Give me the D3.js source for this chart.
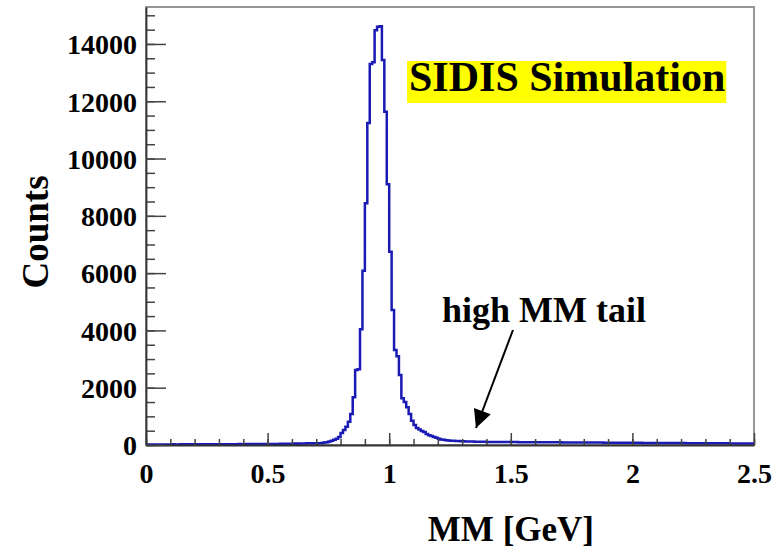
<!DOCTYPE html>
<html>
<head>
<meta charset="utf-8">
<script src="https://cdn.jsdelivr.net/npm/d3@7"></script>
<style>
  body { margin: 0; background: #fff; }
  text { font-family: "Liberation Serif", "Times New Roman", serif; font-weight: bold; fill: #000; }
</style>
</head>
<body>
<svg id="chart"></svg>
<script>
(function (d3) {
    'use strict';

    // histogram: 250 bins of 0.01 GeV from 0 to 2.5
    var binWidth = 0.01;
    var counts = [
        18, 16, 19, 17, 20, 18, 19, 21, 18, 20,
        20, 22, 19, 21, 23, 20, 22, 21, 24, 22,
        23, 25, 22, 24, 26, 23, 25, 27, 24, 26,
        27, 25, 28, 26, 29, 28, 30, 27, 31, 29,
        30, 32, 29, 33, 31, 34, 32, 35, 33, 36,
        35, 37, 36, 39, 38, 41, 40, 43, 42, 46,
        45, 49, 48, 52, 54, 56, 58, 60, 62, 60,
        60, 65, 72, 85, 100, 125, 150, 185, 220, 280,
        420, 520, 640, 813, 1080, 1665, 2620, 2640, 4040, 6080,
        8435, 11240, 13300, 13360, 14480, 14600, 14620, 13440, 11630, 9100,
        6750, 4710, 3315, 3100, 2440, 1630, 1500, 1316, 1080, 850,
        700, 590, 540, 490, 450, 380, 340, 310, 280, 250,
        220, 195, 180, 170, 160, 152, 146, 140, 136, 132,
        128, 125, 122, 120, 118, 116, 114, 112, 111, 110,
        109, 108, 107, 106, 105, 105, 104, 103, 103, 102,
        102, 101, 101, 100, 100, 99, 99, 98, 98, 97,
        97, 96, 96, 95, 95, 94, 94, 93, 93, 92,
        92, 91, 91, 90, 90, 89, 89, 88, 87, 87,
        86, 86, 85, 85, 84, 84, 83, 83, 82, 82,
        81, 81, 80, 80, 79, 79, 78, 78, 77, 77,
        76, 76, 75, 75, 74, 74, 73, 73, 72, 72,
        71, 71, 70, 70, 69, 69, 68, 68, 67, 67,
        66, 66, 65, 65, 64, 64, 63, 63, 62, 62,
        61, 61, 60, 60, 59, 59, 58, 58, 57, 57,
        56, 56, 55, 55, 54, 54, 53, 53, 52, 52
    ];

    var xTicks = [0, 0.5, 1, 1.5, 2, 2.5],
        xTickLabels = ['0', '0.5', '1', '1.5', '2', '2.5'],
        yTicks = [0, 2000, 4000, 6000, 8000, 10000, 12000, 14000],
        yTickLabels = ['0', '2000', '4000', '6000', '8000', '10000', '12000', '14000'],
        xMinorTicks = d3.range(0, 26).map(function (i) { return i / 10; }),
        yMinorTicks = d3.range(0, 31).map(function (i) { return i * 500; });

    var width = 772,
        height = 552,
        margin = { top: 7, right: 18, bottom: 107, left: 146 };

    var x = d3.scaleLinear().domain([0, 2.5]).range([margin.left, width - margin.right]),
        y = d3.scaleLinear().domain([0, 15290]).range([height - margin.bottom, margin.top]);

    var svg = d3.select('#chart')
        .attr('width', width)
        .attr('height', height);

    // frame
    svg.append('rect')
        .attr('x', x(0))
        .attr('y', y(15290))
        .attr('width', x(2.5) - x(0))
        .attr('height', y(0) - y(15290))
        .attr('fill', 'none')
        .attr('stroke', '#8c8c8c')
        .attr('stroke-width', 1.8);

    // histogram outline
    var pts = [];
    counts.forEach(function (c, i) {
        pts.push([i * binWidth, c]);
        pts.push([(i + 1) * binWidth, c]);
    });
    svg.append('path')
        .datum(pts)
        .attr('fill', 'none')
        .attr('stroke', '#1a1ab4')
        .attr('stroke-width', 2.5)
        .attr('d', d3.line()
            .x(function (d) { return x(d[0]); })
            .y(function (d) { return y(d[1]); }));

    // minor ticks
    svg.append('g')
        .attr('transform', 'translate(0,' + y(0) + ')')
        .call(d3.axisBottom(x).tickValues(xMinorTicks).tickSize(-6).tickSizeOuter(0).tickFormat(''))
        .call(function (g) { g.select('.domain').remove(); g.selectAll('line').attr('stroke', '#444').attr('stroke-width', 1.5); });
    svg.append('g')
        .attr('transform', 'translate(' + x(0) + ',0)')
        .call(d3.axisLeft(y).tickValues(yMinorTicks).tickSize(-9).tickSizeOuter(0).tickFormat(''))
        .call(function (g) { g.select('.domain').remove(); g.selectAll('line').attr('stroke', '#444').attr('stroke-width', 1.5); });

    // major axes
    var xAxis = svg.append('g')
        .attr('transform', 'translate(0,' + y(0) + ')')
        .call(d3.axisBottom(x).tickValues(xTicks).tickSize(-12).tickSizeOuter(0).tickPadding(13)
            .tickFormat(function (d, i) { return xTickLabels[i]; }));
    xAxis.select('.domain').attr('stroke', '#333').attr('stroke-width', 1.8);
    xAxis.selectAll('line').attr('stroke', '#444').attr('stroke-width', 1.5);
    xAxis.selectAll('text').style('font-size', '28px').attr('dy', '0.9em');

    var yAxis = svg.append('g')
        .attr('transform', 'translate(' + x(0) + ',0)')
        .call(d3.axisLeft(y).tickValues(yTicks).tickSize(-20).tickSizeOuter(0).tickPadding(9)
            .tickFormat(function (d, i) { return yTickLabels[i]; }));
    yAxis.select('.domain').attr('stroke', '#333').attr('stroke-width', 1.8);
    yAxis.selectAll('line').attr('stroke', '#444').attr('stroke-width', 1.5);
    yAxis.selectAll('text').style('font-size', '28px').attr('dy', '0.35em');

    // axis titles
    svg.append('text')
        .attr('x', 594)
        .attr('y', 541)
        .style('text-anchor', 'end')
        .style('font-size', '35px')
        .text('MM [GeV]');

    svg.append('text')
        .attr('transform', 'translate(48,' + 232 + ') rotate(-90)')
        .style('text-anchor', 'middle')
        .style('font-size', '37px')
        .text('Counts');

    // label box
    var label = svg.append('text')
        .attr('x', 409)
        .attr('y', 91)
        .style('font-size', '42px')
        .text('SIDIS Simulation');
    var bb = label.node().getBBox();
    svg.insert('rect', function () { return label.node(); })
        .attr('x', 407)
        .attr('y', 61)
        .attr('width', bb.width + 3)
        .attr('height', 42)
        .attr('fill', '#ffff00');

    // annotation
    svg.append('text')
        .attr('x', 544)
        .attr('y', 322)
        .style('text-anchor', 'middle')
        .style('font-size', '36px')
        .text('high MM tail');

    svg.append('defs').append('marker')
        .attr('id', 'head')
        .attr('viewBox', '0 0 10 10')
        .attr('refX', 10)
        .attr('refY', 5)
        .attr('markerWidth', 20)
        .attr('markerHeight', 18)
        .attr('markerUnits', 'userSpaceOnUse')
        .attr('orient', 'auto')
        .append('path')
        .attr('d', 'M0,0L10,5L0,10Z')
        .attr('fill', '#000');

    svg.append('line')
        .attr('x1', 513)
        .attr('y1', 330)
        .attr('x2', 476)
        .attr('y2', 428)
        .attr('stroke', '#000')
        .attr('stroke-width', 2)
        .attr('marker-end', 'url(#head)');

})(window.d3);
</script>
</body>
</html>
